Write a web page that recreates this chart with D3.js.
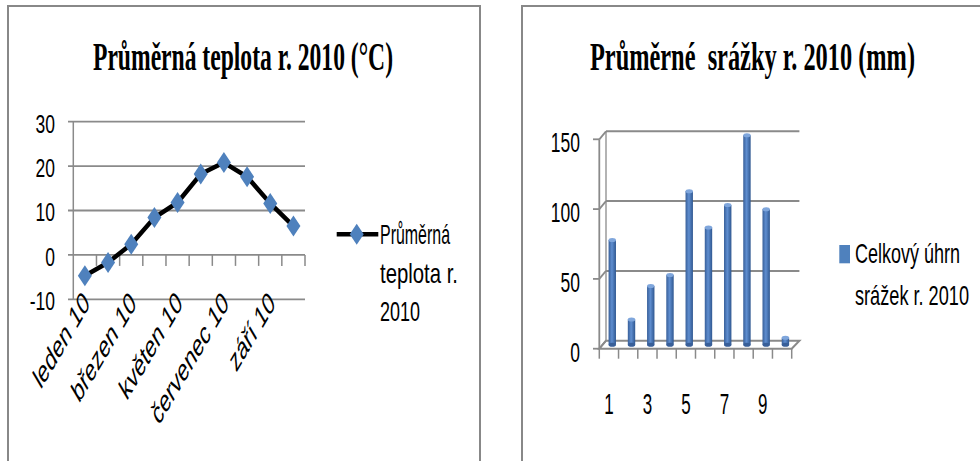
<!DOCTYPE html>
<html><head><meta charset="utf-8">
<script src="https://cdn.jsdelivr.net/npm/d3@7"></script>
<style>body{margin:0;background:#fff;overflow:hidden} text{white-space:pre}</style>
</head><body>
<svg id="c" width="980" height="461"></svg>
<script>
// ---- data ----
const months = ["leden 10","únor 10","březen 10","duben 10","květen 10","červen 10","červenec 10","srpen 10","září 10","říjen 10"];
const tempValues = [-4.7,-1.7,2.4,8.4,11.8,18.2,20.8,17.6,11.6,6.5];
const tempTicks = [-10,0,10,20,30];
const tempTitle = "Průměrná teplota r. 2010 (°C)";
const tempLegend = ["Průměrná","teplota r.","2010"];

const rainCategories = [1,2,3,4,5,6,7,8,9,10];
const rainValues = [75,18,42,50,110,84,100,150,97,5];
const rainTicks = [0,50,100,150];
const rainTitle = "Průměrné  srážky r. 2010 (mm)";
const rainLegend = ["Celkový úhrn","srážek r. 2010"];

// ---- setup ----
const svg = d3.select("#c");
const GRID = "#8a8a8a", BLUE = "#4F81BD";
const SANS = "'Liberation Sans', Arial, sans-serif";
const SERIF = "'Liberation Serif', 'Times New Roman', serif";

function stext(x, y, str, o) {
  o = o || {};
  const g = svg.append("g").attr("transform", `translate(${x},${y}) scale(1,${o.sy || 1.5})` + (o.rot ? ` rotate(${o.rot})` : ""));
  const t = g.append("text").text(str)
    .attr("xml:space", "preserve")
    .attr("font-family", o.family || SANS)
    .attr("font-size", o.size || 17)
    .attr("font-weight", o.weight || "normal")
    .attr("text-anchor", o.anchor || "start")
    .attr("fill", "#000");
  if (o.len) t.attr("textLength", o.len).attr("lengthAdjust", "spacingAndGlyphs");
  return t;
}

// borders
svg.append("rect").attr("x", 8).attr("y", 6).attr("width", 472).attr("height", 480)
  .attr("fill", "none").attr("stroke", "#888").attr("stroke-width", 2);
svg.append("rect").attr("x", 522).attr("y", 6).attr("width", 500).attr("height", 480)
  .attr("fill", "none").attr("stroke", "#888").attr("stroke-width", 2);

// ===== Left chart: temperature line =====
stext(93, 70, tempTitle, {family: SERIF, weight: "bold", size: 24, sy: 1.65, len: 300});

const xL = d3.scaleBand().domain(months).range([73.3, 305]);
const yL = d3.scaleLinear().domain([-10, 30]).range([299.3, 121.7]);
const bw = xL.bandwidth();

svg.append("g").selectAll("line").data(tempTicks).join("line")
  .attr("x1", 68).attr("x2", 305).attr("y1", d => yL(d)).attr("y2", d => yL(d))
  .attr("stroke", GRID).attr("stroke-width", 1.8);
svg.append("line").attr("x1", 73.3).attr("x2", 73.3).attr("y1", yL(30)).attr("y2", yL(-10))
  .attr("stroke", GRID).attr("stroke-width", 1.5);
svg.append("g").selectAll("line").data(months).join("line")
  .attr("x1", d => xL(d) + bw).attr("x2", d => xL(d) + bw)
  .attr("y1", yL(0)).attr("y2", yL(0) + 11)
  .attr("stroke", GRID).attr("stroke-width", 1.5);

tempTicks.forEach(t => stext(55, yL(t) + 1.5 + 0.358 * 17.5 * 1.5, String(t), {anchor: "end", size: 17.5, sy: 1.5}));

months.forEach((m, i) => {
  if (i % 2 === 0) stext(xL(m) + bw / 2 + 6, 305, m, {anchor: "end", size: 18.5, sy: 1.7, rot: -45});
});

svg.append("path").datum(tempValues)
  .attr("d", d3.line().x((d, i) => xL(months[i]) + bw / 2).y(d => yL(d)))
  .attr("fill", "none").attr("stroke", "#000").attr("stroke-width", 4.5).attr("stroke-linejoin", "round");

const diamond = "M0,-10.5L7,0L0,10.5L-7,0Z";
svg.append("g").selectAll("path").data(tempValues).join("path")
  .attr("d", diamond)
  .attr("transform", (d, i) => `translate(${xL(months[i]) + bw / 2},${yL(d)})`)
  .attr("fill", BLUE);

// legend left
svg.append("line").attr("x1", 336.7).attr("x2", 378.3).attr("y1", 234.3).attr("y2", 234.3)
  .attr("stroke", "#000").attr("stroke-width", 4.5);
svg.append("path").attr("d", diamond).attr("transform", "translate(356.7,234.3)").attr("fill", BLUE);
const legL = [70, 78, 40];
tempLegend.forEach((s, i) => stext(380, 244 + i * 38.5, s, {size: 17, sy: 1.6, len: legL[i]}));

// ===== Right chart: 3D columns =====
stext(590, 70, rainTitle, {family: SERIF, weight: "bold", size: 24, sy: 1.65, len: 325});

const DX = 6.7, DY = -8;
const xR = d3.scaleBand().domain(rainCategories).range([599.3, 791.7]);
const yR = d3.scaleLinear().domain([0, 150]).range([348.7, 139.3]);
const rb = xR.bandwidth();

// back wall gridlines + side diagonals
svg.append("g").selectAll("line").data(rainTicks.filter(t => t > 0)).join("line")
  .attr("x1", 599.3 + DX).attr("x2", 791.7 + DX + 1)
  .attr("y1", d => yR(d) + DY).attr("y2", d => yR(d) + DY)
  .attr("stroke", GRID).attr("stroke-width", 2);
svg.append("g").selectAll("line").data(rainTicks).join("line")
  .attr("x1", 599.3).attr("x2", 599.3 + DX)
  .attr("y1", d => yR(d)).attr("y2", d => yR(d) + DY)
  .attr("stroke", GRID).attr("stroke-width", 1.8);
// side wall back edge
svg.append("line").attr("x1", 599.3 + DX).attr("x2", 599.3 + DX)
  .attr("y1", yR(150) + DY).attr("y2", yR(0) + DY).attr("stroke", GRID).attr("stroke-width", 1.3);
// floor
svg.append("path")
  .attr("d", `M${599.3},${yR(0)}L${791.7},${yR(0)}L${791.7 + DX + 1},${yR(0) + DY}L${599.3 + DX},${yR(0) + DY}Z`)
  .attr("fill", "none").attr("stroke", GRID).attr("stroke-width", 2);
// front axis
svg.append("line").attr("x1", 599.3).attr("x2", 599.3).attr("y1", yR(150)).attr("y2", yR(0))
  .attr("stroke", GRID).attr("stroke-width", 1.8);
svg.append("g").selectAll("line").data(rainTicks).join("line")
  .attr("x1", 593).attr("x2", 599.3).attr("y1", d => yR(d)).attr("y2", d => yR(d))
  .attr("stroke", GRID).attr("stroke-width", 1.8);
svg.append("g").selectAll("line").data([0].concat(rainCategories)).join("line")
  .attr("x1", d => d === 0 ? 599.3 : xR(d) + rb).attr("x2", d => d === 0 ? 599.3 : xR(d) + rb)
  .attr("y1", yR(0)).attr("y2", yR(0) + 10)
  .attr("stroke", GRID).attr("stroke-width", 1.5);

rainTicks.forEach(t => stext(580, yR(t) + 3 + 0.358 * 17.5 * 1.6, String(t), {anchor: "end", size: 17.5, sy: 1.6}));
rainCategories.forEach((c, i) => {
  if (i % 2 === 0) stext(xR(c) + rb / 2, 414, String(c), {anchor: "middle", size: 17, sy: 1.75});
});

// bars
const defs = svg.append("defs");
const gr = defs.append("linearGradient").attr("id", "barg").attr("x1", 0).attr("x2", 1).attr("y1", 0).attr("y2", 0);
gr.append("stop").attr("offset", 0).attr("stop-color", "#385F99");
gr.append("stop").attr("offset", 0.45).attr("stop-color", "#5F8ED0");
gr.append("stop").attr("offset", 1).attr("stop-color", "#2F5790");
const BW = 7.4;
const bars = svg.append("g").selectAll("g").data(rainValues).join("g");
bars.append("rect")
  .attr("x", (d, i) => xR(rainCategories[i]) + rb / 2 + DX / 2 - BW / 2)
  .attr("width", BW)
  .attr("y", d => yR(d) + DY / 2)
  .attr("height", d => yR(0) - yR(d))
  .attr("fill", "url(#barg)");
bars.append("ellipse")
  .attr("cx", (d, i) => xR(rainCategories[i]) + rb / 2 + DX / 2)
  .attr("cy", d => yR(d) + DY / 2)
  .attr("rx", BW / 2).attr("ry", 2)
  .attr("fill", "#7FA6DC");
bars.append("ellipse")
  .attr("cx", (d, i) => xR(rainCategories[i]) + rb / 2 + DX / 2)
  .attr("cy", d => yR(0) + DY / 2)
  .attr("rx", BW / 2).attr("ry", 2)
  .attr("fill", "#385F99");

// legend right
svg.append("rect").attr("x", 839.3).attr("y", 245).attr("width", 10.7).attr("height", 18.3).attr("fill", BLUE);
const legR = [105, 114];
rainLegend.forEach((s, i) => stext(855, 263 + i * 42, s, {size: 17, sy: 1.6, len: legR[i]}));
</script>
</body></html>
